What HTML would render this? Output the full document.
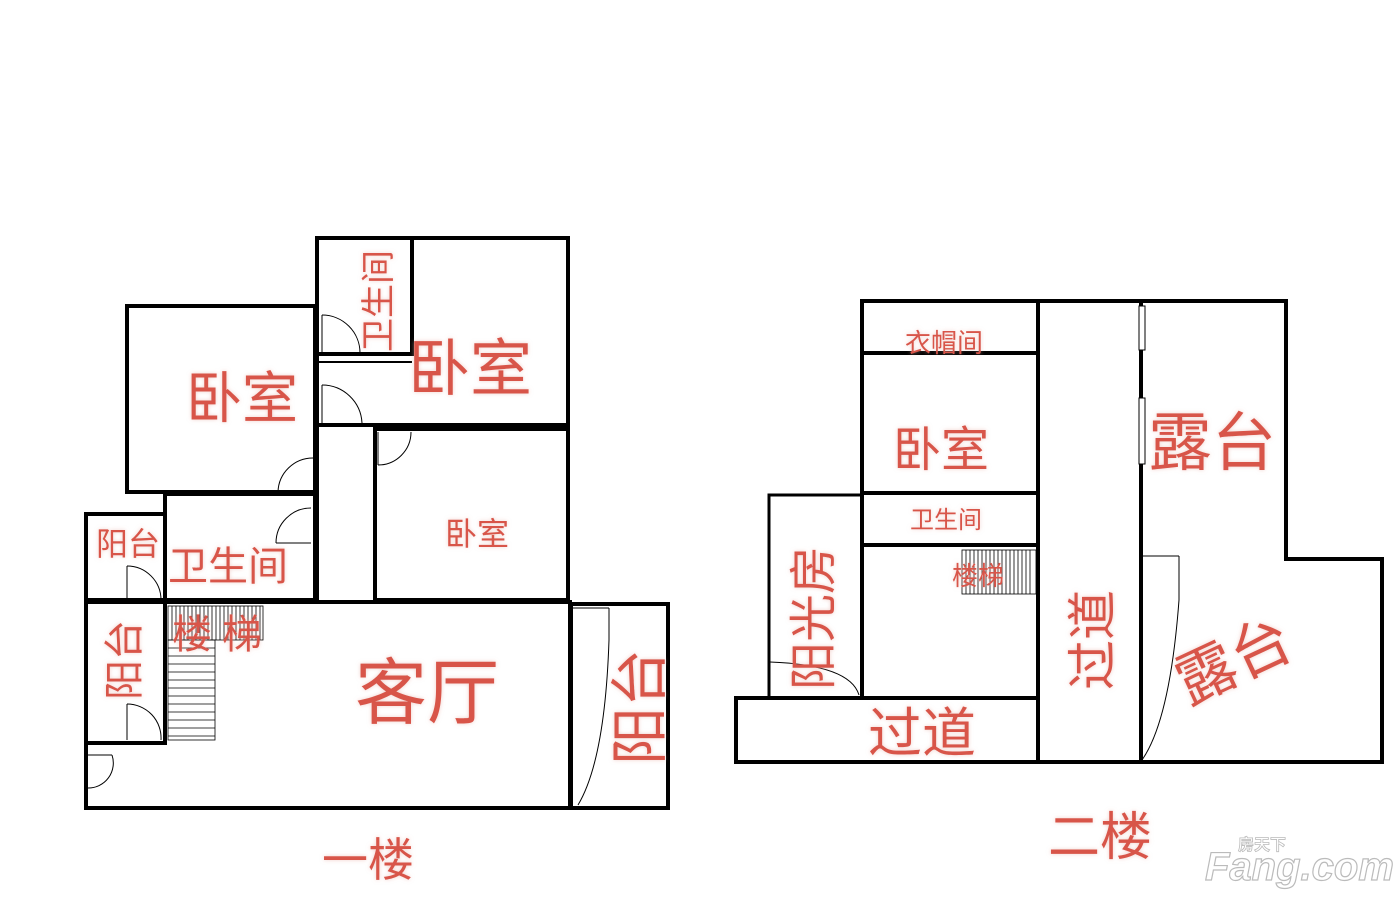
<!DOCTYPE html>
<html><head><meta charset="utf-8"><style>
html,body{margin:0;padding:0;background:#fff;}
svg{display:block}
text{font-family:"Liberation Sans","Noto Sans CJK SC",sans-serif;fill:#d85548;}
</style></head><body>
<svg width="1400" height="903" viewBox="0 0 1400 903" xmlns="http://www.w3.org/2000/svg">
<defs><filter id="g" x="-20%" y="-20%" width="140%" height="140%"><feGaussianBlur stdDeviation="2" in="SourceAlpha" result="b"/><feFlood flood-color="#e8b0a8" flood-opacity="0.6"/><feComposite in2="b" operator="in" result="s"/><feMerge><feMergeNode in="s"/><feMergeNode in="SourceGraphic"/></feMerge></filter></defs>
<g fill="none" stroke="#000" stroke-width="4">
<rect x="127" y="306" width="188" height="186"/>
<rect x="317" y="238" width="251" height="187"/>
<rect x="317" y="238" width="95" height="116"/>
<line x1="317" y1="362" x2="412" y2="362" stroke-width="2"/>
<line x1="317" y1="425" x2="317" y2="600"/>
<rect x="375" y="428" width="193" height="172"/>
<line x1="375" y1="428" x2="568" y2="428" stroke-width="6"/>
<rect x="165" y="494" width="150" height="106"/>
<rect x="86" y="514" width="79" height="86"/>
<rect x="86" y="602" width="484" height="206"/>
<rect x="86" y="602" width="79" height="141"/>
<rect x="571" y="604" width="97" height="204"/>
<rect x="862" y="301" width="176" height="397"/>
<line x1="862" y1="353" x2="1038" y2="353"/>
<line x1="862" y1="493" x2="1038" y2="493"/>
<line x1="862" y1="545" x2="1038" y2="545"/>
<rect x="769" y="495" width="93" height="203" stroke-width="3"/>
<rect x="736" y="698" width="302" height="64"/>
<rect x="1038" y="301" width="103" height="461"/>
<polyline points="1141,301 1286,301 1286,559 1382,559 1382,762 1141,762"/>
</g>
<g fill="none" stroke="#000" stroke-width="1">
<path d="M322 315 A38 38 0 0 1 360 353"/><line x1="322" y1="315" x2="322" y2="353"/>
<path d="M322 385 A40 40 0 0 1 362 423"/><line x1="322" y1="385" x2="322" y2="423"/>
<path d="M378 465 A33 33 0 0 0 411 432"/><line x1="378" y1="432" x2="378" y2="465"/>
<path d="M313 458 A35 35 0 0 0 278 492"/><line x1="278" y1="492" x2="313" y2="492"/>
<path d="M311 508 A35 35 0 0 0 276 543"/><line x1="276" y1="543" x2="311" y2="543"/>
<path d="M127 566 A34 34 0 0 1 161 600"/><line x1="127" y1="566" x2="127" y2="600"/>
<path d="M127 704 A34 34 0 0 1 161 740"/><line x1="127" y1="704" x2="127" y2="740"/>
<path d="M112 755 A25 25 0 0 1 88 788"/><line x1="88" y1="755" x2="112" y2="755"/>
<path d="M609 608 L609 640 Q605 760 578 805"/><line x1="573" y1="608" x2="609" y2="608"/>
<path d="M770 662 Q850 665 859 695"/>
<path d="M1179 556 L1179 600 Q1170 720 1142 760"/><line x1="1141" y1="556" x2="1179" y2="556"/>
<rect x="1139" y="306" width="6" height="44" fill="#fff"/>
<rect x="1139" y="398" width="6" height="66" fill="#fff"/>
</g>
<g stroke="#000" stroke-width="0.8" fill="none">
<rect x="168" y="606" width="95" height="34"/>
<path d="M172 606V640M176 606V640M180 606V640M184 606V640M188 606V640M192 606V640M196 606V640M200 606V640M204 606V640M208 606V640M212 606V640M216 606V640M220 606V640M224 606V640M228 606V640M232 606V640M236 606V640M240 606V640M244 606V640M248 606V640M252 606V640M256 606V640M260 606V640"/>
<rect x="168" y="640" width="47" height="100"/>
<path d="M168 648H215M168 656H215M168 664H215M168 672H215M168 680H215M168 688H215M168 696H215M168 704H215M168 712H215M168 720H215M168 728H215M168 736H215"/>
<rect x="962" y="550" width="74" height="44"/>
<path d="M966 550V594M970 550V594M974 550V594M978 550V594M982 550V594M986 550V594M990 550V594M994 550V594M998 550V594M1002 550V594M1006 550V594M1010 550V594M1014 550V594M1018 550V594M1022 550V594M1026 550V594M1030 550V594"/>
</g>
<g filter="url(#g)">
<text x="186" y="418" font-size="56">卧室</text>
<text x="408" y="390" font-size="62">卧室</text>
<text x="445" y="545" font-size="32">卧室</text>
<text x="168" y="580" font-size="40">卫生间</text>
<text x="96" y="555" font-size="32">阳台</text>
<text x="172" y="648" font-size="40" textLength="90">楼梯</text>
<text x="355" y="718" font-size="72">客厅</text>
<text x="322" y="876" font-size="46">一楼</text>
<text x="0" y="0" font-size="34" transform="translate(390 352) rotate(-90)">卫生间</text>
<text x="0" y="0" font-size="40" transform="translate(138 700) rotate(-90)">阳台</text>
<text x="0" y="0" font-size="58" transform="translate(660 765) rotate(-90)">阳台</text>
<text x="905" y="352" font-size="26">衣帽间</text>
<text x="893" y="466" font-size="48">卧室</text>
<text x="910" y="528" font-size="24">卫生间</text>
<text x="952" y="585" font-size="26">楼梯</text>
<text x="868" y="752" font-size="54">过道</text>
<text x="1048" y="855" font-size="52">二楼</text>
<text x="1148" y="465" font-size="64">露台</text>
<text x="0" y="0" font-size="60" transform="translate(1188 705) rotate(-25)">露台</text>
<text x="0" y="0" font-size="50" transform="translate(1110 690) rotate(-90)">过道</text>
<text x="0" y="0" font-size="48" transform="translate(830 690) rotate(-90)">阳光房</text>
</g>
<g>
<text x="1205" y="880" font-size="40" font-weight="bold" font-style="italic" style="fill:#fff;stroke:#bbb;stroke-width:1.2">Fang.com</text>
<text x="1238" y="850" font-size="16" font-weight="bold" style="fill:#fff;stroke:#bbb;stroke-width:0.8">房天下</text>
</g>
</svg>
</body></html>
